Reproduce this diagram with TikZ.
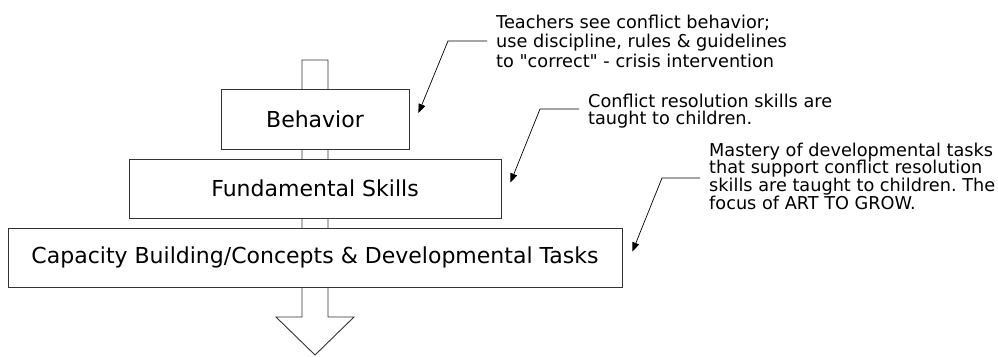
\documentclass[tikz,border=0pt]{standalone}
\usepackage{fontspec}
\setmainfont{DejaVu Sans}[Ligatures=TeXOff]
\usetikzlibrary{arrows.meta,calc}
\tikzset{
  boxnode/.style={draw=black!80, line width=0.9pt, fill=white, inner sep=0pt, font=\fontsize{22}{25}\selectfont},
  notenode/.style={inner xsep=9pt, inner ysep=0pt, align=left, anchor=west},
  callout/.style={line width=0.7pt, -{Triangle[length=9pt,width=7pt]}},
}
\begin{document}
\frenchspacing
\begin{tikzpicture}[x=1pt,y=-1pt]
\useasboundingbox (0,0) rectangle (998,356);
% big arrow
\draw[line width=0.9pt, draw=black!80, fill=white]
  (302,60) -- (328,60) -- (328,317) -- (354,317) -- (315,355) -- (276,317) -- (302,317) -- cycle;
% boxes
\node[boxnode, minimum width=188pt, minimum height=60pt] (beh) at (315,119) {Behavior};
\node[boxnode, minimum width=372pt, minimum height=59pt] (fund) at (315,188.5) {Fundamental Skills};
\node[boxnode, minimum width=614pt, minimum height=59pt] (cap) at (315,257.5) {Capacity Building/Concepts \& Developmental Tasks};
% notes
\node[notenode, font=\fontsize{17.7}{19.5}\selectfont] (t1) at (487,41)
  {Teachers see conflict behavior;\\use discipline, rules \& guidelines\\to "correct" - crisis intervention};
\node[notenode, font=\fontsize{17.7}{17.7}\selectfont] (t2) at (579,111)
  {Conflict resolution skills are\\taught to children.};
\node[notenode, font=\fontsize{17.7}{17.7}\selectfont] (t3) at (700,176)
  {Mastery of developmental tasks\\that support conflict resolution\\skills are taught to children. The\\focus of ART TO GROW.};
% callouts
\draw[callout] (t1.west) -- ++(-39,0) -- ($(beh.east)+(9,-6)$);
\draw[callout] ([yshift=2pt]t2.west) -- ++(-39,0) -- ($(fund.east)+(9,-6)$);
\draw[callout] ([yshift=-2pt]t3.west) -- ++(-38,0) -- ($(cap.east)+(10,-6)$);
\end{tikzpicture}
\end{document}
